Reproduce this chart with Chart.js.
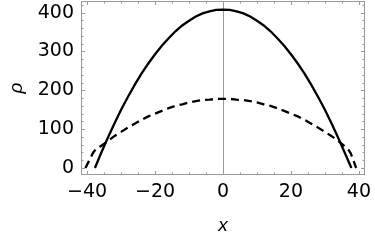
<!DOCTYPE html>
<html><head><meta charset="utf-8">
<script src="https://cdn.jsdelivr.net/npm/chart.js@4"></script>
<style>html,body{margin:0;padding:0;background:#fff}</style>
</head><body>
<canvas id="c" width="375" height="242"></canvas>
<script>
// Solid curve (x, rho)
const solidX = [-37.7,-36,-34,-32,-30,-28,-26,-24,-22,-20,-18,-16,-14,-12,-10,-8,-6,-4,-2,0,2,4,6,8,10,12,14,16,18,20,22,24,26,28,30,32,34,36,37.8];
const solidY = [0,36,76,114,150,183,214,243,269,293,315,334,352,367,379,390,398,403,407,408,407,403,398,390,379,367,352,334,315,293,269,243,214,183,150,114,76,36,0];
// Dashed curve (x, rho)
const dashX = [-40.5,-38.2,-37.2,-36,-34,-32,-30,-28,-26,-24,-22,-20,-18,-16,-14,-12,-10,-8,-6,-4,-2,0,2,4,6,8,10,12,14,16,18,20,22,24,26,28,30,32,34,36,37,37.6,39.2];
const dashY = [0,40,51,56,69,82,93,104,114,124,133,140,147,154,160,164,169,172,175,176,178,178,178,176,175,172,169,164,160,154,147,140,133,124,114,104,93,82,69,55,46,38,0];
// Tick values
const xMajorTicks = [-40,-20,0,20,40];
const xMinorTicks = [-40,-35,-30,-25,-20,-15,-10,-5,0,5,10,15,20,25,30,35,40];
const yMajorTicks = [0,100,200,300,400];
const yMinorTicks = [-20,0,20,40,60,80,100,120,140,160,180,200,220,240,260,280,300,320,340,360,380,400,420];

const toPts = (xs, ys) => xs.map((x, i) => ({x: x, y: ys[i]}));
const fmt = v => (v < 0 ? '\u2212' + Math.abs(v) : String(v));
const FRAME = '#9a9a9a';

const framePlugin = {
  id: 'frame',
  beforeDatasetsDraw(chart) {
    const {ctx, chartArea: a, scales} = chart;
    const xs = scales.x, ys = scales.y;
    ctx.save();
    ctx.strokeStyle = FRAME;
    ctx.lineWidth = 1;
    const x0 = Math.round(xs.getPixelForValue(0)) + 0.5;
    ctx.beginPath(); ctx.moveTo(x0, a.top); ctx.lineTo(x0, a.bottom); ctx.stroke();
    ctx.strokeRect(a.left + 0.5, a.top + 0.5, a.right - a.left - 1, a.bottom - a.top - 1);
    ctx.beginPath();
    xMinorTicks.forEach(v => {
      const p = Math.round(xs.getPixelForValue(v)) + 0.5;
      const len = xMajorTicks.includes(v) ? 4 : 2.5;
      ctx.moveTo(p, a.bottom); ctx.lineTo(p, a.bottom - len);
      ctx.moveTo(p, a.top); ctx.lineTo(p, a.top + len);
    });
    yMinorTicks.forEach(v => {
      const p = Math.round(ys.getPixelForValue(v)) + 0.5;
      if (p < a.top || p > a.bottom) return;
      const len = yMajorTicks.includes(v) ? 4 : 2.5;
      ctx.moveTo(a.left, p); ctx.lineTo(a.left + len, p);
      ctx.moveTo(a.right, p); ctx.lineTo(a.right - len, p);
    });
    ctx.stroke();
    ctx.restore();
  }
};

new Chart(document.getElementById('c'), {
  type: 'scatter',
  data: {
    datasets: [
      { data: toPts(solidX, solidY), showLine: true, borderColor: '#000', borderWidth: 2.3, pointRadius: 0, fill: false, tension: 0 },
      { data: toPts(dashX, dashY), showLine: true, borderColor: '#000', borderWidth: 2.3, borderDash: [8, 5], pointRadius: 0, fill: false, tension: 0 }
    ]
  },
  options: {
    responsive: false,
    animation: false,
    devicePixelRatio: 1,
    layout: { padding: { left: 0, top: 1, right: 10, bottom: 0 } },
    plugins: { legend: { display: false }, tooltip: { enabled: false } },
    scales: {
      x: {
        type: 'linear', min: -41.8, max: 41.8,
        afterBuildTicks: s => { s.ticks = xMajorTicks.map(v => ({value: v})); },
        afterFit: s => { s.height = 67; s.paddingLeft = 0; s.paddingRight = 0; },
        grid: { display: false, drawTicks: false },
        border: { display: false },
        ticks: { padding: 6, color: '#000', font: { family: 'DejaVu Sans', size: 19 }, maxRotation: 0, callback: v => fmt(v) },
        title: { display: true, text: 'x', color: '#000', font: { family: 'Liberation Sans', size: 19, style: 'italic' }, padding: { top: 0, bottom: 5 } }
      },
      y: {
        type: 'linear', min: -18, max: 430,
        afterBuildTicks: s => { s.ticks = yMajorTicks.map(v => ({value: v})); },
        afterFit: s => { s.width = 81; s.paddingTop = 0; s.paddingBottom = 0; },
        grid: { display: false, drawTicks: false },
        border: { display: false },
        ticks: { padding: 7, color: '#000', font: { family: 'DejaVu Sans', size: 19 }, callback: v => fmt(v) },
        title: { display: true, text: 'ρ', color: '#000', font: { family: 'Liberation Sans', size: 19, style: 'italic' }, padding: { top: 5, bottom: 0 } }
      }
    }
  },
  plugins: [framePlugin]
});
</script>
</body></html>
